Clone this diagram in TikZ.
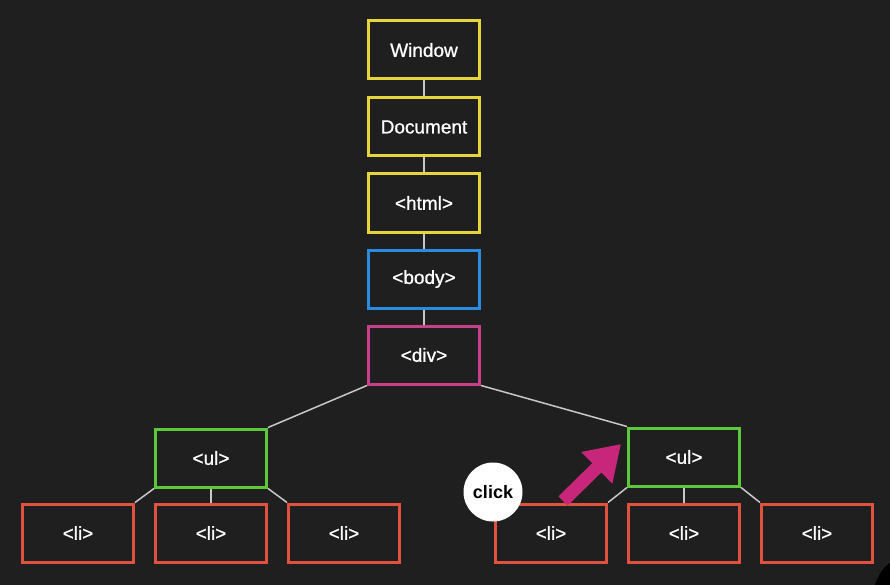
\documentclass[tikz,border=0pt]{standalone}
\usepackage{fontspec}
\setmainfont{Liberation Sans}
\newfontfamily\labelfont{Liberation Sans}[FakeBold=0.9]
\usetikzlibrary{arrows.meta}
\definecolor{bgdark}{HTML}{1F1F1F}
\definecolor{linkgray}{HTML}{C8C8C8}
\definecolor{winyellow}{HTML}{E6D53A}
\definecolor{bodyblue}{HTML}{2A8BE0}
\definecolor{divpink}{HTML}{C8408A}
\definecolor{ulgreen}{HTML}{5CC83A}
\definecolor{lired}{HTML}{E0513F}
\definecolor{clickmag}{HTML}{C8267A}
\begin{document}
\begin{tikzpicture}[x=1pt,y=-1pt, every node/.style={font=\labelfont\fontsize{19}{22}\selectfont,text=white},
  tagbox/.style={draw,line width=3pt,minimum width=111pt,minimum height=58pt,fill=bgdark},
  link/.style={draw=linkgray,line width=1.5pt}]
\fill[bgdark] (0,0) rectangle (890,585);
\fill[black] (875,585) .. controls (879,573) and (884,567) .. (890,563) -- (890,585) -- cycle;
% the path up from the element
\node[tagbox,draw=winyellow] (win) at (424,50) {Window};
\node[tagbox,draw=winyellow] (doc) at (424,127) {Document};
\node[tagbox,draw=winyellow] (html) at (424,203) {<html>};
\node[tagbox,draw=bodyblue] (body) at (424,279) {<body>};
\node[tagbox,draw=divpink] (div) at (424,355) {<div>};
\node[tagbox,draw=ulgreen] (ulL) at (211,458) {<ul>};
\node[tagbox,draw=ulgreen] (ulR) at (684,457) {<ul>};
\node[tagbox,draw=lired] (liA) at (78,533) {<li>};
\node[tagbox,draw=lired] (liB) at (211,533) {<li>};
\node[tagbox,draw=lired] (liC) at (344,533) {<li>};
\node[tagbox,draw=lired] (liD) at (551,533) {<li>};
\node[tagbox,draw=lired] (liE) at (684,533) {<li>};
\node[tagbox,draw=lired] (liF) at (817,533) {<li>};
\path[link] (win) -- (doc);
\path[link] (doc) -- (html);
\path[link] (html) -- (body);
\path[link] (body) -- (div);
\path[link] (div.south west) -- (ulL.north east);
\path[link] (div.south east) -- (ulR.north west);
\path[link] (ulL.south west) -- (liA.north east);
\path[link] (ulL) -- (liB);
\path[link] (ulL.south east) -- (liC.north west);
\path[link] (ulR.south west) -- (liD.north east);
\path[link] (ulR) -- (liE);
\path[link] (ulR.south east) -- (liF.north west);
% the click
\node[circle,fill=white,minimum size=59pt,inner sep=0pt,text=black,font=\fontsize{18}{22}\selectfont\bfseries] (click) at (493,492) {click};
\coordinate (arrtail) at (563,501);
\coordinate (arrtip) at (621,444);
\draw[clickmag,line width=13pt,-{Triangle[width=42pt,length=34pt]}] (arrtail) -- (arrtip);
\end{tikzpicture}
\end{document}
